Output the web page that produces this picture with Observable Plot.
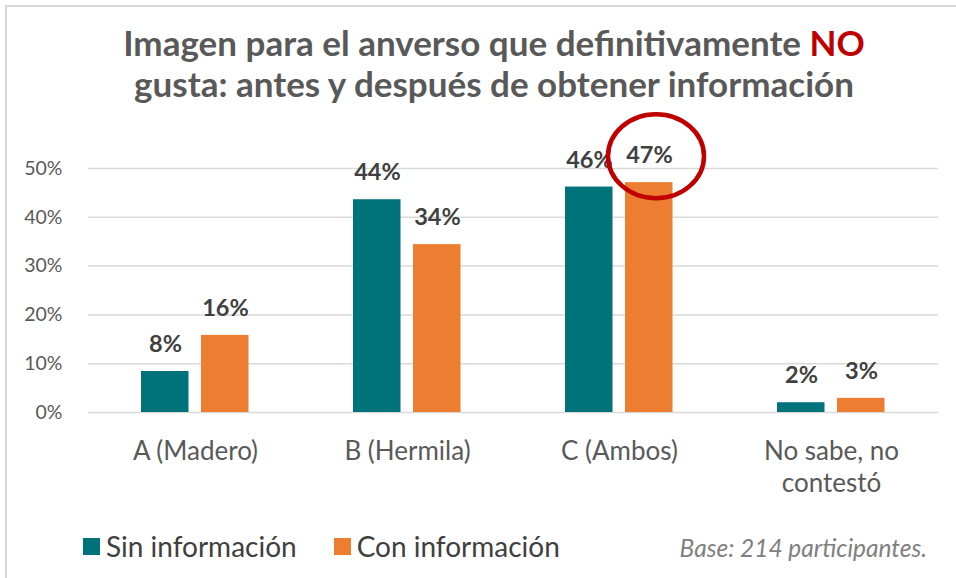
<!DOCTYPE html>
<html>
<head>
<meta charset="utf-8">
<script src="https://cdn.jsdelivr.net/npm/d3@7"></script>
<script src="https://cdn.jsdelivr.net/npm/@observablehq/plot@0.6"></script>
<style>
  html, body { margin: 0; padding: 0; background: #fff; }
  #chart { position: relative; width: 956px; height: 578px; overflow: hidden; font-family: Lato, "Open Sans", sans-serif; }
  #frame { position: absolute; left: 5px; top: 5px; width: 1000px; height: 1000px; border: 2px solid #d9d9d9; box-sizing: border-box; }
  #title { position: absolute; top: 22px; left: 0; width: 988px; text-align: center; font-weight: 700; font-size: 35px; line-height: 41px; color: #595959; }
  #title .no { color: #C00000; }
  #plot { position: absolute; left: 0; top: 100px; }
  #plot svg { overflow: visible; }
  #legend { position: absolute; left: 83px; top: 529px; display: flex; align-items: center; font-size: 28px; color: #404040; }
  #legend .item { display: flex; align-items: center; margin-right: 37px; }
  #legend .sw { width: 17px; height: 17px; margin-right: 6px; }
  #caption { position: absolute; right: 29px; top: 533px; font-style: italic; font-size: 24.5px; color: #808080; }
</style>
</head>
<body>
<div id="chart">
  <div id="frame"></div>
  <div id="title">Imagen para el anverso que definitivamente <span class="no">NO</span><br>gusta: antes y después de obtener información</div>
  <div id="plot"></div>
  <div id="legend"></div>
  <div id="caption">Base: 214 participantes.</div>
</div>
<script>
const categories = ["A (Madero)", "B (Hermila)", "C (Ambos)", "No sabe, no contestó"];
const categoryLabels = ["A (Madero)", "B (Hermila)", "C (Ambos)", "No sabe, no\ncontestó"];
const sinInformacion = [0.084, 0.436, 0.462, 0.020];
const conInformacion = [0.158, 0.344, 0.471, 0.029];
const seriesNames = ["Sin información", "Con información"];
const seriesColors = ["#00727A", "#ED7D31"];
const yTicks = [0, 0.1, 0.2, 0.3, 0.4, 0.5];
const highlight = {category: "C (Ambos)", value: 0.471};

const pct = d3.format(".0%");
const sinData = categories.map((c, i) => ({category: c, value: sinInformacion[i]}));
const conData = categories.map((c, i) => ({category: c, value: conInformacion[i]}));
const labelData = categories.map((c, i) => ({category: c, label: categoryLabels[i]}));

const plot = Plot.plot({
  width: 956,
  height: 410,
  marginLeft: 88,
  marginRight: 18,
  marginTop: 68,
  marginBottom: 98,
  style: {fontFamily: "Lato, 'Open Sans', sans-serif", background: "transparent", overflow: "visible"},
  x: {domain: categories, padding: 0, axis: null},
  y: {domain: [0, 0.5], axis: null},
  marks: [
    Plot.ruleY(yTicks, {stroke: "#d9d9d9", strokeWidth: 1.5}),
    Plot.text(yTicks, {y: d => d, text: d => pct(d), frameAnchor: "left", textAnchor: "end", dx: -26, fontSize: 19.5, fill: "#595959"}),
    Plot.barY(sinData, {x: "category", y: "value", fill: seriesColors[0], insetLeft: 52, insetRight: 112.5}),
    Plot.barY(conData, {x: "category", y: "value", fill: seriesColors[1], insetLeft: 112, insetRight: 52.5}),
    Plot.text(sinData, {x: "category", y: "value", text: d => pct(d.value), dx: -30, dy: -27, fontSize: 23.5, fontWeight: 700, fill: "#404040"}),
    Plot.text(conData, {x: "category", y: "value", text: d => pct(d.value), dx: 30, dy: -27, fontSize: 23.5, fontWeight: 700, fill: "#404040"}),
    Plot.text(labelData, {x: "category", text: "label", frameAnchor: "bottom", lineAnchor: "top", dy: 24, lineHeight: 1.25, fontSize: 26, fill: "#595959"})
  ]
});

// annotation ellipse around the highlighted value, positioned with the plot's scales
const xs = plot.scale("x");
const ys = plot.scale("y");
const cx = xs.apply(highlight.category) + xs.bandwidth / 2 + 30 + 7;
const cy = ys.apply(highlight.value) - 26;
d3.select(plot).append("ellipse")
  .attr("cx", cx).attr("cy", cy).attr("rx", 48).attr("ry", 42)
  .attr("fill", "none").attr("stroke", "#C00000").attr("stroke-width", 4.5);

document.getElementById("plot").appendChild(plot);

const legend = d3.select("#legend");
seriesNames.forEach((name, i) => {
  const item = legend.append("div").attr("class", "item");
  item.append("div").attr("class", "sw").style("background", seriesColors[i]);
  item.append("span").text(name);
});
</script>
</body>
</html>
